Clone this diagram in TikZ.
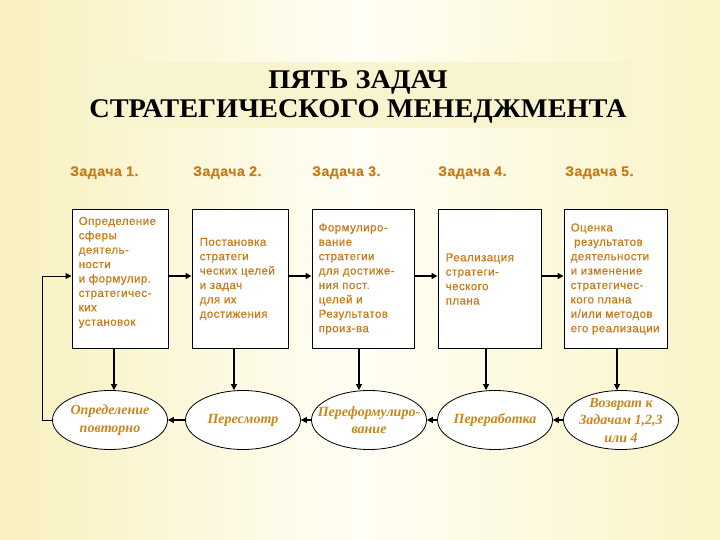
\documentclass[tikz,border=0pt]{standalone}
\usepackage{fontspec}
\setmainfont{Liberation Serif}
\newfontfamily\boxfont[LetterSpace=4,FakeBold=0.6]{Liberation Sans}
\newfontfamily\titlefont[FakeStretch=1.05]{Liberation Serif}
\usetikzlibrary{arrows.meta,shapes.geometric,calc}
\definecolor{bgedge}{HTML}{F8F0BE}
\definecolor{bgright}{HTML}{FAF4C6}
\definecolor{bgmid}{HTML}{FFFEF5}
\definecolor{bandc}{HTML}{F9F4D0}
\definecolor{txtc}{HTML}{C77C1C}
\definecolor{elltxt}{HTML}{C9861A}
\begin{document}
\begin{tikzpicture}[x=1pt,y=-1pt,
  taskbox/.style={draw=black, line width=1pt, fill=white, minimum width=#1, minimum height=138pt, inner sep=0pt},
  boxtext/.style={font=\boxfont\fontsize{11.5}{14.4}\selectfont, text=txtc, align=left, inner sep=0pt, anchor=west},
  hdr/.style={font=\boxfont\bfseries\fontsize{14}{16}\selectfont, text=txtc, inner sep=0pt, anchor=base west},
  ell/.style={ellipse, draw=black, line width=0.8pt, fill=white, minimum width=115pt, minimum height=59pt, inner sep=0pt},
  elltext/.style={align=center, inner sep=0pt, font=\bfseries\itshape\fontsize{14}{17.5}\selectfont, text=elltxt},
  arr/.style={line width=1.6pt, -{Triangle[length=6pt,width=6pt]}},
  thinarr/.style={line width=1pt, -{Triangle[length=6pt,width=6pt]}}
]
\useasboundingbox (0,0) rectangle (720,540);
\shade[left color=bgedge, right color=bgright, middle color=bgmid] (0,0) rectangle (720,540);

% title
\fill[bandc] (85,62) rectangle (633,128);
\node[inner sep=0pt, align=center, anchor=base,
      font=\titlefont\bfseries\fontsize{27}{29}\selectfont] (title) at (358,118)
  {ПЯТЬ ЗАДАЧ\\СТРАТЕГИЧЕСКОГО МЕНЕДЖМЕНТА};

% headers
\node[hdr] (h1) at (70,176) {Задача 1.};
\node[hdr] (h2) at (193,176) {Задача 2.};
\node[hdr] (h3) at (312,176) {Задача 3.};
\node[hdr] (h4) at (438,176) {Задача 4.};
\node[hdr] (h5) at (565,176) {Задача 5.};

% boxes
\node[taskbox=96pt] (b1) at (120,279) {};
\node[taskbox=96pt] (b2) at (240,279) {};
\node[taskbox=102pt] (b3) at (363,279) {};
\node[taskbox=103pt] (b4) at (489.5,279) {};
\node[taskbox=103pt] (b5) at (615.5,279) {};

\node[boxtext] (t1) at ([xshift=7pt,yshift=6.5pt]b1.west)
  {Определение\\сферы\\деятель-\\ности\\и формулир.\\стратегичес-\\ких\\установок};
\node[boxtext] (t2) at ([xshift=8pt]b2.west)
  {Постановка\\стратеги\\ческих целей\\и задач\\для их\\достижения};
\node[boxtext] (t3) at ([xshift=7pt]b3.west)
  {Формулиро-\\вание\\стратегии\\для достиже-\\ния пост.\\целей и\\Результатов\\произ-ва};
\node[boxtext] (t4) at ([xshift=8pt]b4.west)
  {Реализация\\стратеги-\\ческого\\плана};
\node[boxtext] (t5) at ([xshift=7pt]b5.west)
  {Оценка\\\hspace*{0.3em}результатов\\деятельности\\и изменение\\стратегичес-\\кого плана\\и/или методов\\его реализации};

% ellipses
\node[ell] (e1) at (110,420) {};
\node[ell] (e2) at (243,420) {};
\node[ell] (e3) at (369,420) {};
\node[ell] (e4) at (495,420) {};
\node[ell] (e5) at (621,420) {};
\node[elltext] (l1) at (e1.center) {Определение\\повторно};
\node[elltext] (l2) at (e2.center) {Пересмотр};
\node[elltext] (l3) at (e3.center) {Переформулиро-\\вание};
\node[elltext] (l4) at (e4.center) {Переработка};
\node[elltext] (l5) at (e5.center) {Возврат к\\Задачам 1,2,3\\или 4};

% horizontal arrows between boxes
\draw[arr] ([yshift=3pt]b1.east) -- ([yshift=3pt]b2.west);
\draw[arr] ([yshift=3pt]b2.east) -- ([yshift=3pt]b3.west);
\draw[arr] ([yshift=3pt]b3.east) -- ([yshift=3pt]b4.west);
\draw[arr] ([yshift=3pt]b4.east) -- ([yshift=3pt]b5.west);

% vertical arrows
\draw[arr] ([xshift=-6pt]b1.south) -- ([xshift=-6pt]b1.south |- e1.north);
\draw[arr] ([xshift=-6pt]b2.south) -- ([xshift=-6pt]b2.south |- e2.north);
\draw[arr] ([xshift=-4pt]b3.south) -- ([xshift=-4pt]b3.south |- e3.north);
\draw[arr] ([xshift=-3.5pt]b4.south) -- ([xshift=-3.5pt]b4.south |- e4.north);
\draw[arr] ([xshift=1.5pt]b5.south) -- ([xshift=1.5pt]b5.south |- e5.north);

% arrows between ellipses
\draw[arr] (e2.west) -- (e1.east);
\draw[arr] (e3.west) -- (e2.east);
\draw[arr] (e4.west) -- (e3.east);
\draw[arr] (e5.west) -- (e4.east);

% feedback
\draw[thinarr] (e1.west) -- ++(-10,0) |- ([yshift=3pt]b1.west);
\end{tikzpicture}
\end{document}
